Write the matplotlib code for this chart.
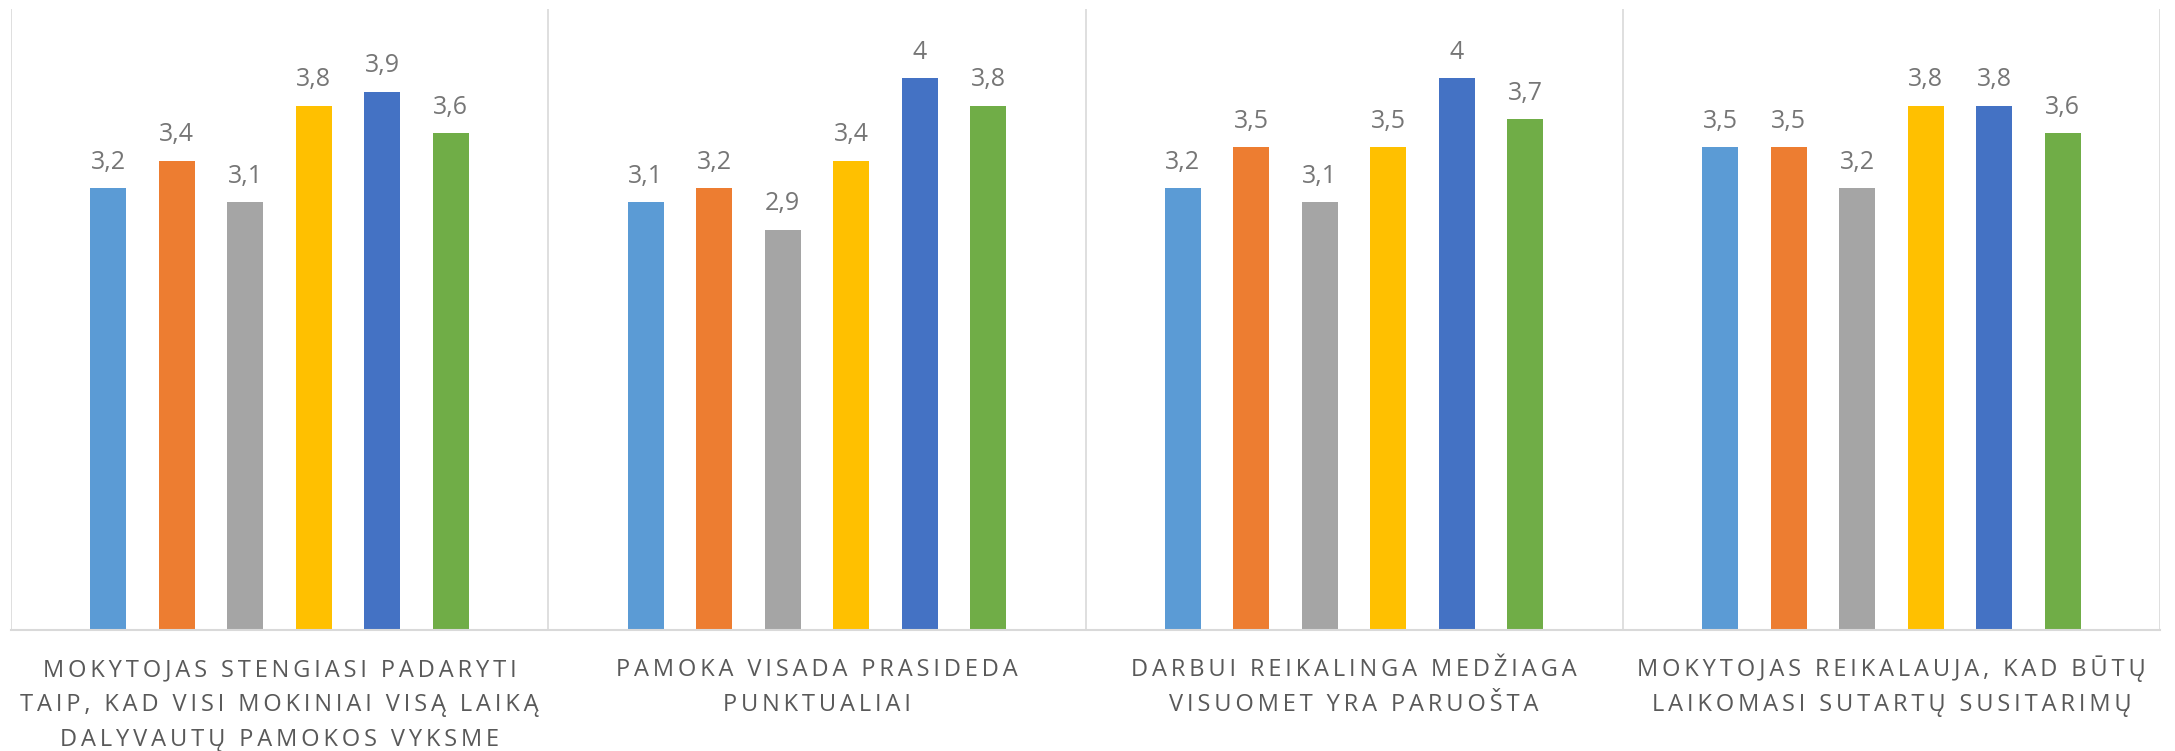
import numpy as np
import matplotlib.pyplot as plt
from matplotlib.transforms import blended_transform_factory

categories = [
    "MOKYTOJAS STENGIASI PADARYTI\nTAIP, KAD VISI MOKINIAI VISĄ LAIKĄ\nDALYVAUTŲ PAMOKOS VYKSME",
    "PAMOKA VISADA PRASIDEDA\nPUNKTUALIAI",
    "DARBUI REIKALINGA MEDŽIAGA\nVISUOMET YRA PARUOŠTA",
    "MOKYTOJAS REIKALAUJA, KAD BŪTŲ\nLAIKOMASI SUTARTŲ SUSITARIMŲ",
]
s1 = [3.2, 3.1, 3.2, 3.5]
s2 = [3.4, 3.2, 3.5, 3.5]
s3 = [3.1, 2.9, 3.1, 3.2]
s4 = [3.8, 3.4, 3.5, 3.8]
s5 = [3.9, 4.0, 4.0, 3.8]
s6 = [3.6, 3.8, 3.7, 3.6]
series = [s1, s2, s3, s4, s5, s6]
colors = ["#5B9BD5", "#ED7D31", "#A5A5A5", "#FFC000", "#4472C4", "#70AD47"]

plt.rcParams['font.family'] = ['Open Sans', 'DejaVu Sans']

W, H = 2175, 751
fig = plt.figure(figsize=(W / 100, H / 100), dpi=100)
ax = fig.add_axes([11 / W, 1 - 630 / H, 2149 / W, 621 / H])

x = np.arange(len(categories))
step = 0.1275
width = 0.067
for i, (vals, c) in enumerate(zip(series, colors)):
    pos = x + (i - 2.5) * step
    bars = ax.bar(pos, vals, width=width, color=c, zorder=2)
    for b, v in zip(bars, vals):
        txt = f"{v:g}".replace(".", ",")
        ax.annotate(txt, (b.get_x() + b.get_width() / 2, v), xytext=(0, 14),
                    textcoords="offset points", ha="center", va="baseline",
                    fontsize=18, color="#767676")

ax.set_xlim(-0.5, len(categories) - 0.5)
ax.set_ylim(0, 4.5)
for sep in np.arange(-0.5, len(categories), 1.0):
    ax.axvline(sep, color="#D9D9D9", lw=1.2, zorder=1)

for s in ["top", "right", "left"]:
    ax.spines[s].set_visible(False)
ax.spines["bottom"].set_color("#D9D9D9")
ax.spines["bottom"].set_linewidth(1.5)
ax.set_yticks([])
ax.set_xticks([])

# category labels, letter-spaced like the Excel axis text
trans = blended_transform_factory(ax.transData, fig.transFigure)
for xi, lab in zip(x, categories):
    for j, line in enumerate(lab.split("\n")):
        spaced = "\u2009".join(line)
        ax.text(xi, 1 - (676 + j * 35) / H, spaced, transform=trans,
                ha="center", va="baseline", fontsize=17, color="#595959")

fig.savefig("out.png", dpi=100)
